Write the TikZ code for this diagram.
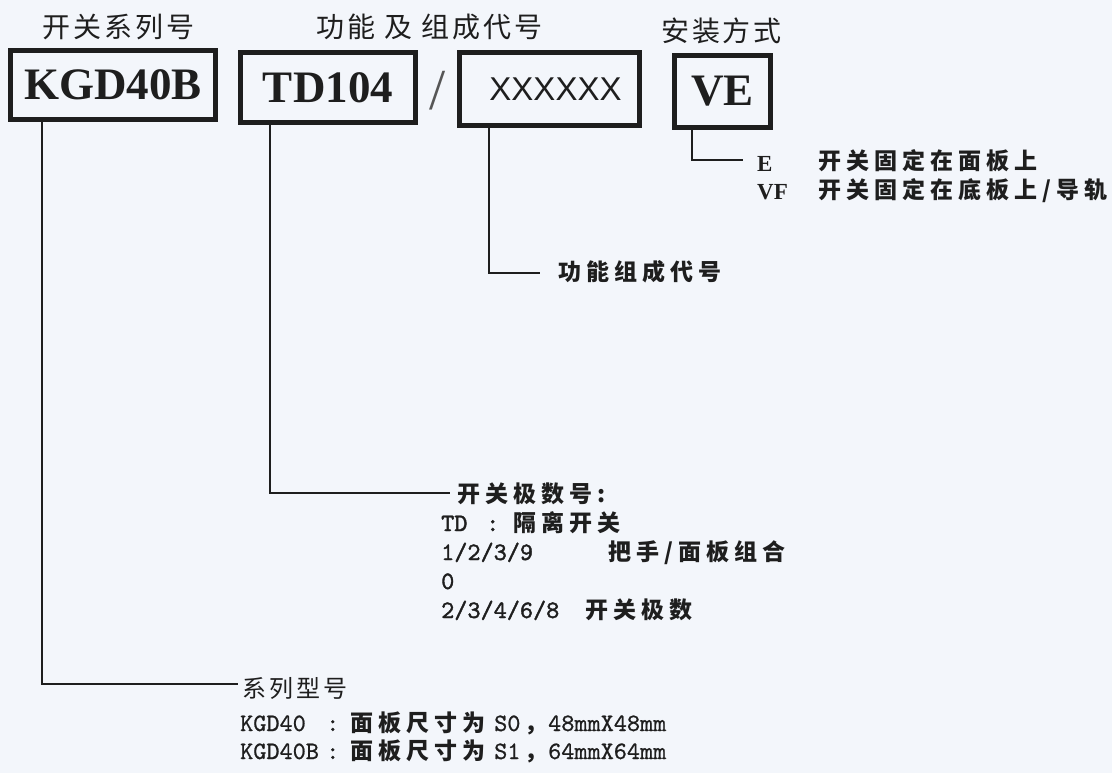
\documentclass[tikz,border=0pt]{standalone}
\usepackage{fontspec}
\setmainfont{Liberation Serif}
\newfontfamily\cjk{Noto Sans CJK SC}
\newfontfamily\lmonb{lmmono10-regular.otf}[FakeBold=1.6]
\newfontfamily\lmonr{lmmono10-regular.otf}[FakeBold=0.8]
\newfontfamily\lsans{Liberation Sans}
\newdimen\spc
\def\spaced#1{\spacedi#1\relax}
\def\spacedi#1{\ifx#1\relax\else#1\kern\spc\expandafter\spacedi\fi}
\definecolor{ink}{HTML}{1E1E1E}
\definecolor{bg}{HTML}{F3F6FB}
\tikzset{
  box/.style={draw=ink, line width=5pt, inner sep=0pt, text=ink},
  bigser/.style={font=\bfseries\fontsize{45pt}{50pt}\selectfont},
  title/.style={font={\cjk\fontsize{28pt}{30pt}\selectfont\spc=3pt}, text=ink, inner sep=0pt},
  ck/.style={font={\cjk\bfseries\fontsize{23pt}{26pt}\selectfont\spc=5pt}, text=ink, inner sep=0pt, anchor=base west},
  ckl/.style={font={\cjk\fontsize{24pt}{26pt}\selectfont\spc=3pt}, text=ink, inner sep=0pt, anchor=base west},
  lt/.style={font={\lmonb\fontsize{25pt}{27pt}\selectfont}, text=ink, inner sep=0pt, anchor=base west},
  ltr/.style={font={\lmonr\fontsize{25pt}{27pt}\selectfont}, text=ink, inner sep=0pt, anchor=base west},
  lse/.style={font={\bfseries\fontsize{23pt}{25pt}\selectfont}, text=ink, inner sep=0pt, anchor=base west},
  conn/.style={draw=ink, line width=2pt}
}
\begin{document}
\begin{tikzpicture}[x=1pt,y=-1pt]
\fill[bg] (0,0) rectangle (1112,773);
\useasboundingbox (0,0) rectangle (1112,773);

% titles
\node[title] (t1) at (120,27) {\spaced{开关系列号}};
\node[title] (t2) at (431,27) {\spaced{功能}\kern6pt\spaced{及}\kern6pt\spaced{组成代号}};
\node[title] (t3) at (723,31) {\spaced{安装方式}};

% boxes
\node[box, bigser, minimum width=205pt, minimum height=69pt] (kgd) at (113,85) {KGD40B};
\node[box, bigser, minimum width=175pt, minimum height=70pt] (td) at (328,87.5) {TD104};
\node[font={\fontsize{58pt}{60pt}\selectfont}, text=ink!75, inner sep=0pt] (slash) at (438,91) {/};
\node[box, font={\lsans\fontsize{33pt}{36pt}\selectfont}, minimum width=180pt, minimum height=73pt] (xx) at (549.5,89) {\kern12pt XXXXXX};
\node[box, bigser, minimum width=96pt, minimum height=72pt] (ve) at (722.5,91.5) {VE};

% connector corners and ends
\coordinate (c1) at (42,684);   \coordinate (e1) at (238,684);
\coordinate (c2) at (270,493);  \coordinate (e2) at (450,493);
\coordinate (c3) at (489,273);  \coordinate (e3) at (540,273);
\coordinate (c4) at (692,160);  \coordinate (e4) at (743,160);

\draw[conn] (kgd.south -| c1) -- (c1) -- (e1);
\draw[conn] (td.south -| c2) -- (c2) -- (e2);
\draw[conn] (xx.south -| c3) -- (c3) -- (e3);
\draw[conn] (ve.south -| c4) -- (c4) -- (e4);

% mounting
\node[lse] (mE) at (757,172) {E};
\node[ck] (mEt) at (818,170) {\spaced{开关固定在面板上}};
\node[lse] (mVF) at (757,200) {VF};
\node[ck] (mVFt) at (818,199) {\spaced{开关固定在底板上/导轨}};

% function code
\node[ck] (fn) at (558,280) {\spaced{功能组成代号}};

% poles
\node[ck] (p0) at (457,502) {\spaced{开关极数号:}};
\node[lt] (p1a) at (441,531) {TD};
\node[lt] (p1b) at (486,531) {:};
\node[ck] (p1c) at (513,531) {\spaced{隔离开关}};
\node[lt] (p2a) at (441,560) {1/2/3/9};
\node[ck] (p2b) at (608,560) {\spaced{把手/面板组合}};
\node[lt] (p3a) at (441,589) {0};
\node[lt] (p4a) at (441,618) {2/3/4/6/8};
\node[ck] (p4b) at (585,618) {\spaced{开关极数}};

% series
\node[ckl] (s0) at (242,697) {\spaced{系列型号}};
\node[ltr] (s1a) at (240,731) {KGD40};
\node[ltr] (s1b) at (326,731) {:};
\node[ck] (s1c) at (350,731) {\spaced{面板尺寸为}};
\node[ltr] (s1d) at (494,731) {S0};
\node[ck] (s1e) at (524,731) {，};
\node[ltr] (s1f) at (548,731) {48mmX48mm};
\node[ltr] (s2a) at (240,759) {KGD40B};
\node[ltr] (s2b) at (326,759) {:};
\node[ck] (s2c) at (350,759) {\spaced{面板尺寸为}};
\node[ltr] (s2d) at (494,759) {S1};
\node[ck] (s2e) at (524,759) {，};
\node[ltr] (s2f) at (548,759) {64mmX64mm};
\end{tikzpicture}
\end{document}
